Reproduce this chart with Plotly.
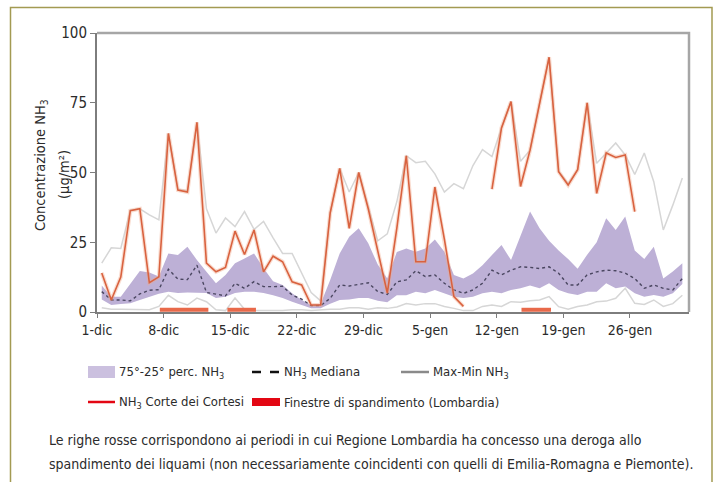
import numpy as np
import plotly.graph_objects as go

# ---- data: daily NH3 concentrations (µg/m³), 1 Dec -> 31 Jan ----
day_index = np.arange(62) + 0.5          # daily means plotted at mid-day

nh3_corte = [14, 4.3, 12.5, 36.3, 37, 10.5, 12.6, 64, 43.7, 43,
             68, 17.5, 14.4, 16, 29, 20.6, 29.4, 14.4, 20, 18,
             10.8, 9.7, 2.5, 2.5, 35.5, 51.5, 30, 50, 37, 22,
             6.8, 30, 56, 18, 18, 44.8, 26, 5.5, 2, None,
             None, 44, 66, 75.4, 45, 58, 75, 91.3, 50.3, 45.5,
             51, 75, 42.5, 57, 55.4, 56.3, 36, None, None, None,
             None, None]

nh3_max = [17.5, 23, 22.8, 36.5, 37, 34.8, 33, 64, 44, 43.5,
           68, 37, 28.3, 33.7, 30.6, 36, 29.6, 32.5, 26.6, 21,
           21, 13.9, 7, 4, 35.5, 51.5, 43, 50, 38, 25.5,
           28, 39.5, 56, 53.5, 54, 49.5, 43, 46, 44.2, 52.5,
           58.2, 55.7, 66, 75.4, 54, 58, 75, 91.3, 50.5, 46,
           51, 75, 53.3, 57, 60.6, 56.3, 49.3, 57, 46.7, 29.4,
           38.3, 48]

nh3_min = [1.5, 1, 1, 1, 1, 0.8, 2, 6, 3.7, 2.5,
           5, 3.7, 0.8, 0.5, 5, 1, 0.5, 0.5, 0.5, 0.5,
           0.8, 0.8, 0.5, 0.8, 1, 1, 1.5, 1.5, 1, 1.5,
           1.3, 1.8, 3, 2.5, 3, 3, 2, 1.3, 0.5, 0.5,
           2, 2.5, 2, 3.7, 3.5, 4, 4.3, 5.5, 1.9, 1,
           2, 2.5, 3.7, 3.9, 4.9, 8.5, 3.1, 2.7, 4.3, 2,
           3, 6]

nh3_p75 = [9.5, 5.5, 5.5, 10, 14.7, 14.2, 12.7, 21, 20.4, 23.4,
           18.6, 14.4, 10.3, 13.3, 17.5, 19.2, 21, 15.7, 11, 9.7,
           6.7, 4.3, 2.5, 3, 11.5, 21, 27, 30, 24.6, 17,
           12, 21.5, 22.8, 21.6, 22.8, 26, 21.6, 13.3, 12, 13.8,
           16.8, 20.4, 24, 18.6, 27, 36, 30, 25.5, 22, 19,
           15.5, 20.5, 25, 33.6, 29.4, 34.2, 22, 19, 23.4, 12,
           14.5, 17.5]

nh3_p25 = [4.5, 2.5, 2.9, 3.1, 4.3, 5.5, 6.5, 7.3, 6.8, 7,
           6.8, 6.8, 5, 5.5, 6.8, 7.3, 7.3, 6.8, 6, 5,
           3.7, 2.5, 1.3, 1.3, 3, 4.3, 4.5, 5, 5, 4,
           3.5, 6, 6, 7.3, 6.7, 7.9, 6.7, 5.5, 5, 5.5,
           6.7, 7.3, 6.7, 7.9, 8.5, 9.5, 8.5, 10.3, 7.9, 6.7,
           6.1, 7.3, 7.3, 10.3, 8.5, 9.1, 6.7, 5.5, 6.1, 5.5,
           6.7, 10]

nh3_median = [7.3, 4.3, 4.3, 4, 6.5, 7.8, 8, 15.3, 11.8, 11.6,
              16.8, 7, 6.4, 5.8, 10.3, 8.5, 10.9, 9.1, 9.1, 9.2,
              6.1, 4.6, 2.3, 2.3, 4.9, 9.7, 9.3, 10, 10.5, 7.3,
              6.3, 10.8, 11.5, 14.8, 12.7, 13.3, 10.3, 7.9, 6.7, 7.9,
              10.3, 15, 13.3, 15, 16.2, 16, 15.6, 16.2, 13.9, 9.7,
              9.7, 13.3, 14.4, 15, 14.8, 13.9, 12, 8.5, 9.7, 8.5,
              7.9, 12]

# spreading windows granted in Lombardy (days since 1 Dec)
window_start = [6.6, 13.7, 44.6]
window_end = [11.7, 16.7, 47.7]

tick_days = [0, 7, 14, 21, 28, 35, 42, 49, 56]
tick_labels = ["1-dic", "8-dic", "15-dic", "22-dic", "29-dic",
               "5-gen", "12-gen", "19-gen", "26-gen"]

# ---- layout geometry (pixels) ----
W, H = 715, 482
PL, PR, PT, PB = 97, 689, 33, 312
FONT = "Liberation Sans Narrow, DejaVu Sans Condensed, Roboto, sans-serif"
TXT = "#2b2b2b"


def px(x):
    return (x - PL) / (PR - PL)


def py(y):
    return (PB - y) / (PB - PT)


fig = go.Figure()

# interquartile band
fig.add_trace(go.Scatter(x=day_index, y=nh3_p25, mode="lines",
                         line=dict(width=0), hoverinfo="skip"))
fig.add_trace(go.Scatter(x=day_index, y=nh3_p75, mode="lines",
                         line=dict(width=0), fill="tonexty",
                         fillcolor="#bdb0d6"))

# max / min envelope
for series in (nh3_max, nh3_min):
    fig.add_trace(go.Scatter(x=day_index, y=series, mode="lines",
                             line=dict(color="#d6d6d6", width=1.5)))

# median
fig.add_trace(go.Scatter(x=day_index, y=nh3_median, mode="lines",
                         line=dict(color="#4a4660", width=1.4, dash="dot")))

# Corte dei Cortesi station
fig.add_trace(go.Scatter(x=day_index, y=nh3_corte, mode="lines",
                         line=dict(color="rgba(240,170,140,0.4)", width=4),
                         connectgaps=False))
fig.add_trace(go.Scatter(x=day_index, y=nh3_corte, mode="lines",
                         line=dict(color="#d9623f", width=1.6),
                         connectgaps=False))

# spreading windows along the time axis
for s, e in zip(window_start, window_end):
    fig.add_trace(go.Scatter(x=[s, e], y=[0.8, 0.8], mode="lines",
                             line=dict(color="#e8694a", width=4),
                             cliponaxis=False))

shapes = []
# top and right frame of the plot area
shapes.append(dict(type="path", xref="paper", yref="paper",
                   path="M 0 1 L 1 1 L 1 0",
                   line=dict(color="#a6a6a6", width=2.5)))
# outer box
x0, x1, y0, y1 = px(10.5), px(712), py(7.5), py(495)
shapes.append(dict(type="path", xref="paper", yref="paper",
                   path=f"M {x0} {y1} L {x0} {y0} L {x1} {y0} L {x1} {y1}",
                   line=dict(color="#a39a52", width=1.5)))

annotations = []

# y-axis title, two rotated lines
title_font = dict(family=FONT, size=14.5, color=TXT)
annotations.append(dict(
    xref="paper", yref="paper", x=px(41), y=py(165),
    text="Concentrazione NH<sub>3</sub>", textangle=-90, showarrow=False,
    xanchor="center", yanchor="middle", font=title_font))
annotations.append(dict(
    xref="paper", yref="paper", x=px(64), y=py(175),
    text="(µg/m²)", textangle=-90, showarrow=False,
    xanchor="center", yanchor="middle", font=title_font))

# legend
legend_font = dict(family=FONT, size=13, color=TXT)
row1, row2 = 372, 402
shapes.append(dict(type="rect", xref="paper", yref="paper",
                   x0=px(88), x1=px(115), y0=py(378), y1=py(366),
                   fillcolor="#cbc0df", line=dict(width=0)))
shapes.append(dict(type="line", xref="paper", yref="paper",
                   x0=px(252), x1=px(280), y0=py(row1), y1=py(row1),
                   line=dict(color="#111111", width=2.5, dash="dash")))
shapes.append(dict(type="line", xref="paper", yref="paper",
                   x0=px(401), x1=px(429), y0=py(row1), y1=py(row1),
                   line=dict(color="#8a8a8a", width=2.5)))
shapes.append(dict(type="line", xref="paper", yref="paper",
                   x0=px(88), x1=px(115), y0=py(row2), y1=py(row2),
                   line=dict(color="#e30613", width=2.5)))
shapes.append(dict(type="rect", xref="paper", yref="paper",
                   x0=px(252), x1=px(280), y0=py(406), y1=py(398),
                   fillcolor="#e30613", line=dict(width=0)))

legend_items = [
    (117, row1, "75°-25° perc. NH<sub>3</sub>"),
    (282, row1, "NH<sub>3</sub> Mediana"),
    (431, row1, "Max-Min NH<sub>3</sub>"),
    (117, row2, "NH<sub>3</sub> Corte dei Cortesi"),
    (282, row2, "Finestre di spandimento (Lombardia)"),
]
for lx, ly, txt in legend_items:
    annotations.append(dict(xref="paper", yref="paper", x=px(lx), y=py(ly),
                            text=txt, showarrow=False, xanchor="left",
                            yanchor="middle", font=legend_font))

# caption
caption_font = dict(family=FONT, size=14, color=TXT)
caption = [
    "Le righe rosse corrispondono ai periodi in cui Regione Lombardia ha concesso una deroga allo",
    "spandimento dei liquami (non necessariamente coincidenti con quelli di Emilia-Romagna e Piemonte).",
]
for i, line in enumerate(caption):
    annotations.append(dict(xref="paper", yref="paper", x=px(47),
                            y=py(440 + 24 * i), text=line, showarrow=False,
                            xanchor="left", yanchor="middle", font=caption_font))

fig.update_layout(
    width=W, height=H,
    margin=dict(l=PL, r=W - PR, t=PT, b=H - PB, autoexpand=False),
    paper_bgcolor="white", plot_bgcolor="white",
    showlegend=False,
    shapes=shapes, annotations=annotations,
    font=dict(family=FONT, color=TXT),
)
fig.update_xaxes(range=[0, 62.2], tickmode="array", tickvals=tick_days,
                 ticktext=tick_labels, showgrid=False, zeroline=False,
                 showline=True, linecolor="#7d7d7d", linewidth=2,
                 ticks="outside", ticklen=4, tickcolor="#7d7d7d",
                 tickfont=dict(family=FONT, size=14, color=TXT))
fig.update_yaxes(range=[0, 100], tickvals=[0, 25, 50, 75, 100],
                 showgrid=False, zeroline=False,
                 showline=True, linecolor="#7d7d7d", linewidth=2,
                 ticks="outside", ticklen=5, tickcolor="#7d7d7d",
                 tickfont=dict(family=FONT, size=15, color=TXT))

fig.write_html("out.html")
